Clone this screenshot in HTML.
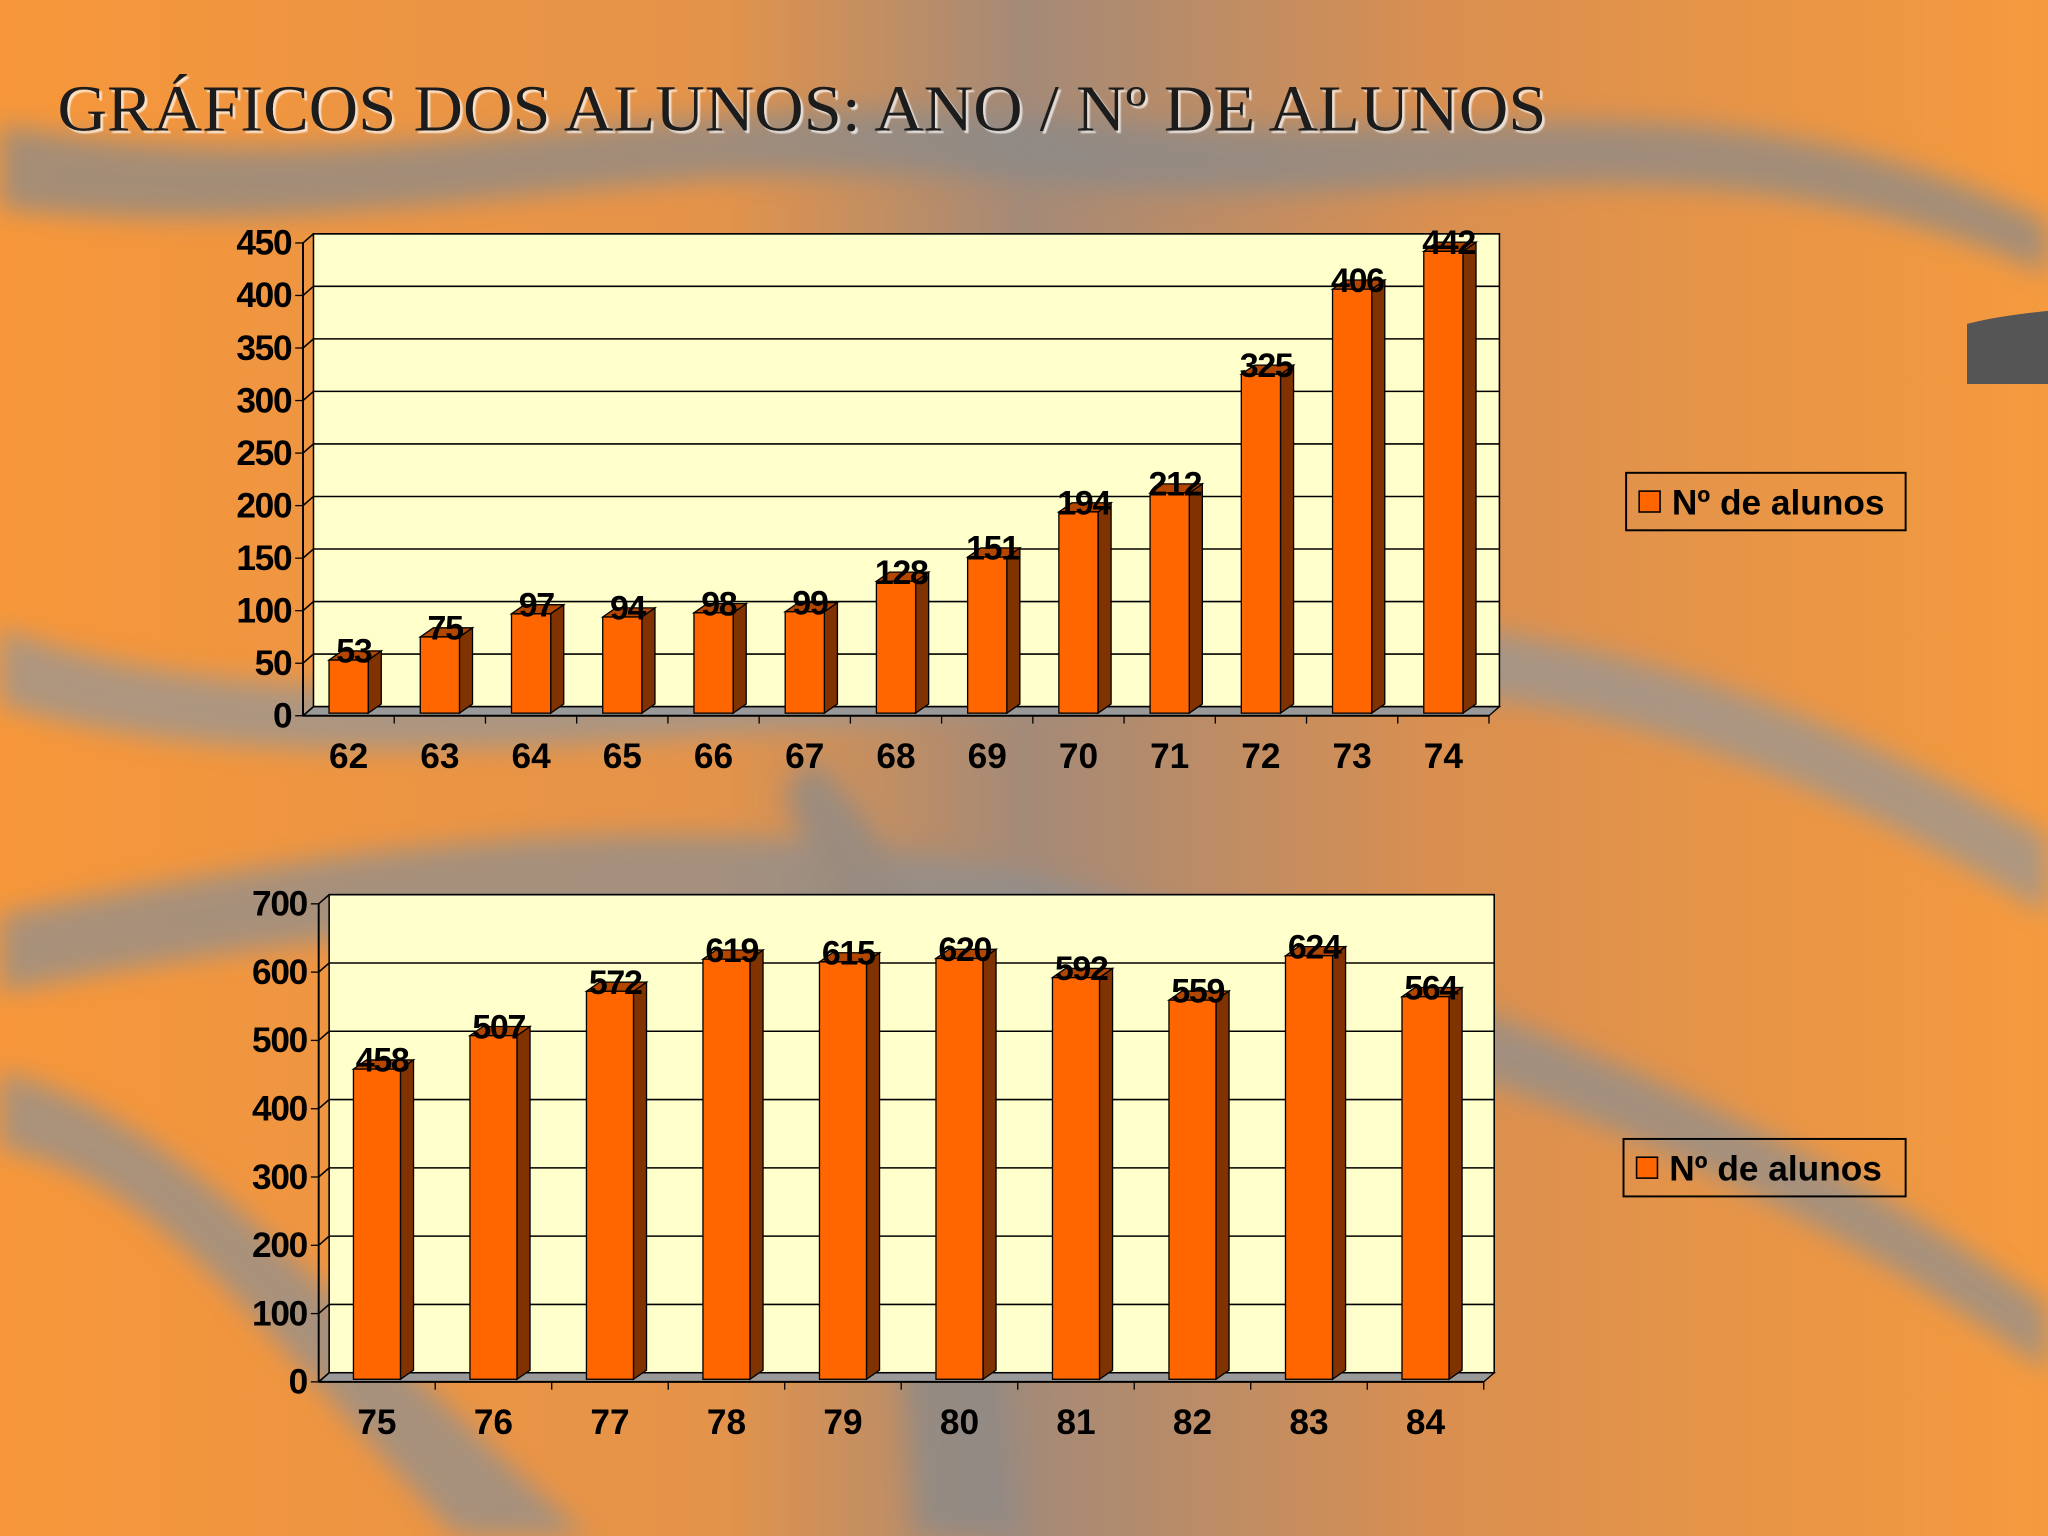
<!DOCTYPE html>
<html><head><meta charset="utf-8"><style>
html,body{margin:0;padding:0;width:2048px;height:1536px;overflow:hidden;background:#f39a3c}
svg{display:block}
</style></head><body>
<svg id="chart" width="2048" height="1536" viewBox="0 0 1568 1176" xmlns="http://www.w3.org/2000/svg">
<defs>
<linearGradient id="bg" x1="0" y1="0" x2="1" y2="0">
<stop offset="0" stop-color="#f7973a"/><stop offset="0.35" stop-color="#e4934a"/><stop offset="0.5" stop-color="#a48a78"/><stop offset="0.7" stop-color="#d98f50"/><stop offset="1" stop-color="#f59a3e"/>
</linearGradient>
<filter id="blur"><feGaussianBlur stdDeviation="10"/></filter>
<filter id="ts"><feDropShadow dx="2" dy="2" stdDeviation="0.5" flood-color="#fff" flood-opacity="0.7"/></filter>
</defs>
<g>
<rect width="1568" height="1176" fill="url(#bg)"/>
<g filter="url(#blur)" opacity="0.75">
<path d="M0,95 C300,150 500,60 800,90 C1100,120 1300,40 1568,170 L1568,210 C1300,90 1100,170 800,140 C500,110 300,190 0,160Z" fill="#8a8a8a"/>
<path d="M0,480 C200,560 500,520 900,480 C1200,450 1400,550 1568,640 L1568,700 C1400,600 1200,500 900,530 C500,570 200,600 0,540Z" fill="#969696"/>
<path d="M0,700 C300,640 600,600 900,700 C1200,780 1400,880 1568,1000 L1568,1050 C1400,930 1200,830 900,760 C600,680 300,700 0,760Z" fill="#8f8f8f"/>
<path d="M0,820 C150,860 250,1000 450,1176 L350,1176 C200,1020 120,900 0,880Z" fill="#909090"/>
<path d="M620,580 C700,650 760,800 780,1176 L700,1176 C680,820 640,680 600,610Z" fill="#8a8a8a"/>
</g>
<path d="M1506,248 C1530,242 1550,240 1568,238 L1568,294 C1550,294 1530,294 1506,294Z" fill="#555"/>
</g>
<text x="44" y="100" font-family="Liberation Serif, serif" font-size="50" textLength="1140" lengthAdjust="spacingAndGlyphs" fill="#1a1a1a" filter="url(#ts)">GRÁFICOS DOS ALUNOS: ANO / Nº DE ALUNOS</text>
<g id="c1"></g>
<g id="c2"></g>
</svg>
<script>
const cats1=["62","63","64","65","66","67","68","69","70","71","72","73","74"];
const vals1=[53,75,97,94,98,99,128,151,194,212,325,406,442];
const ticks1=[0,50,100,150,200,250,300,350,400,450];
const cats2=["75","76","77","78","79","80","81","82","83","84"];
const vals2=[458,507,572,619,615,620,592,559,624,564];
const ticks2=[0,100,200,300,400,500,600,700];
const NS="http://www.w3.org/2000/svg";
function mk(p,t,a,txt){const e=document.createElementNS(NS,t);for(const k in a)e.setAttribute(k,a[k]);if(txt!==undefined)e.textContent=txt;p.appendChild(e);return e;}
function draw(gid,cats,vals,ticks,cfg){
 const g=document.getElementById(gid);
 const max=ticks[ticks.length-1];
 const y=v=>cfg.y0-(v/max)*(cfg.y0-cfg.yTop);
 const dx=8,dy=7;
 const bw=(cfg.x1-cfg.x0)/cats.length;
 const x=i=>cfg.x0+bw*(i+0.5);
 const wall=mk(g,'rect',{x:cfg.x0+dx,y:cfg.yTop-dy,width:cfg.x1-cfg.x0,height:cfg.y0-cfg.yTop,fill:'#ffffcc',stroke:'#000','stroke-width':1.2});
 
 
 const fl=mk(g,'path',{d:`M${cfg.x0},${cfg.y0} L${cfg.x0+dx},${cfg.y0-dy} L${cfg.x1+dx},${cfg.y0-dy} L${cfg.x1},${cfg.y0}Z`,fill:'#999',stroke:'#000','stroke-width':1});
 
 
 ticks.forEach(t=>{
  const gl=mk(g,'path',{d:`M${cfg.x0},${y(t)} L${cfg.x0+dx},${y(t)-dy} L${cfg.x1+dx},${y(t)-dy}`,fill:'none',stroke:'#000','stroke-width':1.2});
  
  
  mk(g,'line',{x1:cfg.x0-6,y1:y(t),x2:cfg.x0,y2:y(t),stroke:'#000'});
  const tl=mk(g,'text',{x:cfg.x0-9,y:y(t)+9,'text-anchor':'end','font-family':'Liberation Sans, sans-serif','font-weight':'bold','font-size':27,'letter-spacing':-1,fill:'#000'},String(t));
  
  
 });
 const ax=mk(g,'line',{x1:cfg.x0,y1:cfg.y0,x2:cfg.x0,y2:cfg.yTop,stroke:'#000','stroke-width':1.5});
 
 
 mk(g,'line',{x1:cfg.x0,y1:cfg.y0,x2:cfg.x1,y2:cfg.y0,stroke:'#000','stroke-width':1.5});
 cats.forEach((c,i)=>{
  mk(g,'line',{x1:cfg.x0+bw*(i+1),y1:cfg.y0,x2:cfg.x0+bw*(i+1),y2:cfg.y0+6,stroke:'#000'});
  const cl=mk(g,'text',{x:x(i),y:cfg.y0+40,'text-anchor':'middle','font-family':'Liberation Sans, sans-serif','font-weight':'bold','font-size':27,fill:'#000'},c);
  
  
  const w=cfg.bar, bx=x(i)-w/2, by=y(vals[i]), b0=cfg.y0-2;
  const bar=mk(g,'g',{});
  
  
  mk(bar,'path',{d:`M${bx+w},${by} L${bx+w+dx+2},${by-dy} L${bx+w+dx+2},${b0-dy} L${bx+w},${b0}Z`,fill:'#803300',stroke:'#000','stroke-width':1});
  mk(bar,'path',{d:`M${bx},${by} L${bx+dx+2},${by-dy} L${bx+w+dx+2},${by-dy} L${bx+w},${by}Z`,fill:'#b34700',stroke:'#000','stroke-width':1});
  mk(bar,'rect',{x:bx,y:by,width:w,height:b0-by,fill:'#ff6600',stroke:'#000','stroke-width':1});
  const vl=mk(g,'text',{x:x(i)+4,y:by+2,'text-anchor':'middle','font-family':'Liberation Sans, sans-serif','font-weight':'bold','font-size':26,'letter-spacing':-1,fill:'#000'},String(vals[i]));
  
  
 });
 const lg=mk(g,'g',{});
 
 
 mk(lg,'rect',{x:cfg.lx,y:cfg.ly,width:cfg.lw,height:44,fill:'none',stroke:'#000','stroke-width':1.5});
 mk(lg,'rect',{x:cfg.lx+10,y:cfg.ly+14,width:16,height:16,fill:'#ff6600',stroke:'#000','stroke-width':1.2});
 mk(lg,'text',{x:cfg.lx+35,y:cfg.ly+32,'font-family':'Liberation Sans, sans-serif','font-weight':'bold','font-size':27,fill:'#000'},'Nº de alunos');
}
draw('c1',cats1,vals1,ticks1,{x0:232,x1:1140,y0:548,yTop:186,bar:30,lx:1245,ly:362,lw:214});
draw('c2',cats2,vals2,ticks2,{x0:244,x1:1136,y0:1058,yTop:692,bar:36,lx:1243,ly:872,lw:216});
</script>
</body></html>
